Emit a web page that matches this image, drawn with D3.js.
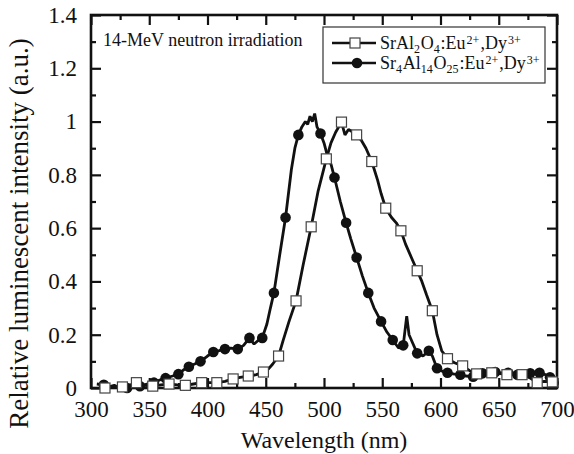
<!DOCTYPE html>
<html>
<head>
<meta charset="utf-8">
<script src="https://cdn.jsdelivr.net/npm/d3@7"></script>
<style>
  body { margin: 0; background: #fff; }
</style>
</head>
<body>
<div class="graph"></div>
<script>
// SrAl2O4:Eu,Dy  (open squares)
var sqWl  = [310, 312, 320, 327, 333, 339, 346, 353, 360, 367, 374, 381, 388, 395, 401, 408, 415, 422, 428, 435, 442, 448, 452, 456, 461, 465, 470, 476, 482, 489, 495, 502, 506, 510, 515, 518, 521, 525, 528, 532, 536, 541, 546, 549, 553, 558, 562, 566, 570, 575, 580, 584, 588, 593, 597, 601, 606, 612, 619, 625, 631, 638, 644, 650, 657, 663, 670, 676, 683, 689, 696, 700];
var sqVal = [0.0, 0.0, 0.005, 0.004, 0.01, 0.02, 0.01, 0.007, 0.012, 0.015, 0.012, 0.01, 0.015, 0.02, 0.02, 0.02, 0.025, 0.034, 0.04, 0.045, 0.05, 0.06, 0.07, 0.09, 0.12, 0.18, 0.25, 0.327, 0.46, 0.605, 0.74, 0.86, 0.92, 0.96, 0.998, 0.95, 0.97, 0.96, 0.95, 0.93, 0.9, 0.85, 0.78, 0.73, 0.675, 0.64, 0.62, 0.59, 0.54, 0.49, 0.44, 0.4, 0.35, 0.29, 0.2, 0.14, 0.11, 0.095, 0.083, 0.065, 0.053, 0.055, 0.057, 0.055, 0.05, 0.052, 0.05, 0.04, 0.02, 0.025, 0.023, 0.03];
var sqMarks = [312, 327, 339, 353, 367, 381, 395, 408, 422, 435, 448, 461, 476, 489, 502, 515, 528, 541, 553, 566, 580, 593, 606, 619, 631, 644, 657, 670, 683, 696];

// Sr4Al14O25:Eu,Dy  (filled circles)
var ciWl  = [305, 311, 316, 320, 325, 331, 336, 342, 348, 354, 359, 364, 370, 375, 380, 384, 389, 394, 400, 405, 410, 415, 420, 426, 431, 436, 440, 444, 447, 451, 454, 457, 462, 467, 472, 475, 478, 481, 484, 486, 488, 490, 492, 494, 497, 500, 503, 506, 509, 514, 519, 523, 528, 533, 538, 543, 549, 554, 559, 564, 568, 571, 573, 576, 580, 585, 590, 593, 597, 602, 606, 612, 617, 622, 628, 632, 636, 642, 647, 652, 658, 662, 666, 672, 677, 681, 685, 690, 694, 697, 700];
var ciVal = [0.015, 0.012, 0.005, 0.01, 0.0, 0.0, 0.005, 0.007, 0.015, 0.02, 0.03, 0.037, 0.045, 0.052, 0.07, 0.08, 0.09, 0.10, 0.12, 0.135, 0.14, 0.146, 0.15, 0.146, 0.16, 0.188, 0.165, 0.18, 0.188, 0.24, 0.3, 0.357, 0.5, 0.64, 0.82, 0.9, 0.95, 0.98, 1.0, 0.99, 1.02, 1.0, 1.03, 0.98, 0.955, 0.92, 0.87, 0.84, 0.79, 0.7, 0.62, 0.56, 0.49, 0.42, 0.357, 0.3, 0.25, 0.21, 0.18, 0.15, 0.16, 0.27, 0.2, 0.17, 0.13, 0.12, 0.14, 0.12, 0.074, 0.062, 0.057, 0.052, 0.05, 0.045, 0.042, 0.05, 0.055, 0.06, 0.06, 0.057, 0.057, 0.052, 0.05, 0.055, 0.055, 0.06, 0.057, 0.05, 0.04, 0.02, 0.03];
var ciMarks = [311, 331, 342, 354, 364, 375, 384, 394, 405, 415, 426, 436, 447, 457, 467, 478, 497, 509, 519, 528, 538, 549, 559, 568, 580, 590, 597, 606, 617, 628, 636, 647, 658, 666, 677, 685, 694, 697];

var xTicks = [300, 350, 400, 450, 500, 550, 600, 650, 700];
var yTicks = [0, 0.2, 0.4, 0.6, 0.8, 1, 1.2, 1.4];
var yTickLabels = ["0", "0.2", "0.4", "0.6", "0.8", "1", "1.2", "1.4"];

var FONT = "'Liberation Serif', 'Times New Roman', serif";
var W = 574, H = 454;
var margin = { top: 15, right: 17, bottom: 66, left: 91 },
  width = W - margin.left - margin.right,
  height = H - margin.top - margin.bottom;

var x = d3.scaleLinear().domain([300, 700]).range([0, width]);
var y = d3.scaleLinear().domain([0, 1.4]).range([height, 0]);

var root = d3.select(".graph")
  .append("svg")
  .attr("width", W)
  .attr("height", H)
  .style("font-family", FONT);

var svg = root.append("g")
  .attr("transform", "translate(" + margin.left + "," + margin.top + ")");

var xMinor = d3.range(325, 700, 50);
var yMinor = d3.range(0.1, 1.4, 0.2);

// ticks inward on all four sides
function styleAxis(g) {
  g.attr("font-family", null);
  g.select(".domain").remove();
  g.selectAll(".tick line").attr("stroke", "#111").attr("stroke-width", 2.2);
  g.selectAll(".tick text")
    .style("font-family", FONT)
    .style("font-size", "23px")
    .attr("fill", "#111");
}

svg.append("g").attr("transform", "translate(0," + height + ")")
  .call(d3.axisBottom(x).tickValues(xTicks).tickSize(-10).tickPadding(13).tickFormat(d3.format("d")))
  .call(styleAxis);
svg.append("g").attr("transform", "translate(0," + height + ")")
  .call(d3.axisBottom(x).tickValues(xMinor).tickSize(-5).tickFormat(""))
  .call(styleAxis);
svg.append("g")
  .call(d3.axisTop(x).tickValues(xTicks).tickSize(-10).tickFormat(""))
  .call(styleAxis);
svg.append("g")
  .call(d3.axisTop(x).tickValues(xMinor).tickSize(-5).tickFormat(""))
  .call(styleAxis);

svg.append("g")
  .call(d3.axisLeft(y).tickValues(yTicks).tickSize(-10).tickPadding(14).tickFormat(function(d, i) { return yTickLabels[i]; }))
  .call(styleAxis);
svg.append("g")
  .call(d3.axisLeft(y).tickValues(yMinor).tickSize(-5).tickFormat(""))
  .call(styleAxis);
svg.append("g").attr("transform", "translate(" + width + ",0)")
  .call(d3.axisRight(y).tickValues(yTicks).tickSize(-10).tickFormat(""))
  .call(styleAxis);
svg.append("g").attr("transform", "translate(" + width + ",0)")
  .call(d3.axisRight(y).tickValues(yMinor).tickSize(-5).tickFormat(""))
  .call(styleAxis);

svg.append("rect")
  .attr("width", width).attr("height", height)
  .attr("fill", "none").attr("stroke", "#111").attr("stroke-width", 2.6);

var line = d3.line()
  .x(function(d) { return x(d[0]); })
  .y(function(d) { return y(d[1]); });

var sqData = d3.zip(sqWl, sqVal);
var ciData = d3.zip(ciWl, ciVal);

svg.append("path").datum(ciData).attr("d", line)
  .attr("fill", "none").attr("stroke", "#111").attr("stroke-width", 2.8).attr("stroke-linejoin", "bevel");
svg.append("path").datum(sqData).attr("d", line)
  .attr("fill", "none").attr("stroke", "#111").attr("stroke-width", 2.8).attr("stroke-linejoin", "bevel");

svg.selectAll(".ci").data(ciMarks).enter().append("circle")
  .attr("cx", function(d) { return x(d); })
  .attr("cy", function(d) { return y(ciVal[ciWl.indexOf(d)]); })
  .attr("r", 5.3)
  .attr("fill", "#111");

svg.selectAll(".sq").data(sqMarks).enter().append("rect")
  .attr("x", function(d) { return x(d) - 5; })
  .attr("y", function(d) { return y(sqVal[sqWl.indexOf(d)]) - 5; })
  .attr("width", 10).attr("height", 10)
  .attr("fill", "#fff").attr("stroke", "#444").attr("stroke-width", 1.2);

// annotation
svg.append("text").attr("x", 12).attr("y", 31)
  .style("font-size", "18px").attr("fill", "#111").text("14-MeV neutron irradiation");

// legend
var lg = svg.append("g").attr("transform", "translate(232,12)");
lg.append("rect").attr("width", 222).attr("height", 56)
  .attr("fill", "#fff").attr("stroke", "#333").attr("stroke-width", 1.2);

function chem(t, parts) {
  parts.forEach(function(p) {
    var ts = t.append("tspan").text(p[0]);
    if (p[1] === "sub") ts.style("font-size", "12px").attr("dy", 4);
    if (p[1] === "sup") ts.style("font-size", "12px").attr("dy", -5).attr("dx", 1);
    if (p[1] === "back") ts.attr("dy", p[2]).attr("dx", p[3] || 0.8);
  });
}

lg.append("line").attr("x1", 9).attr("x2", 53).attr("y1", 16).attr("y2", 16)
  .attr("stroke", "#111").attr("stroke-width", 2.6);
lg.append("rect").attr("x", 27).attr("y", 11).attr("width", 10).attr("height", 10)
  .attr("fill", "#fff").attr("stroke", "#444").attr("stroke-width", 1.2);
var t1 = lg.append("text").attr("x", 57).attr("y", 22).style("font-size", "18px").attr("fill", "#111");
chem(t1, [["SrAl"], ["2", "sub"], ["O", "back", -4], ["4", "sub"], [":Eu", "back", -4], ["2+", "sup"], [",Dy", "back", 5, 1], ["3+", "sup"]]);

lg.append("line").attr("x1", 9).attr("x2", 53).attr("y1", 36).attr("y2", 36)
  .attr("stroke", "#111").attr("stroke-width", 2.6);
lg.append("circle").attr("cx", 34).attr("cy", 36).attr("r", 5.3).attr("fill", "#111");
var t2 = lg.append("text").attr("x", 57).attr("y", 42).style("font-size", "18px").attr("fill", "#111");
chem(t2, [["Sr"], ["4", "sub"], ["Al", "back", -4], ["14", "sub"], ["O", "back", -4], ["25", "sub"], [":Eu", "back", -4], ["2+", "sup"], [",Dy", "back", 5, 1], ["3+", "sup"]]);

// axis titles
svg.append("text")
  .attr("x", width / 2).attr("y", height + 60)
  .attr("text-anchor", "middle").style("font-size", "24px").attr("fill", "#111")
  .text("Wavelength (nm)");
svg.append("text")
  .attr("transform", "translate(" + (-63) + "," + (height / 2 + 32) + ") rotate(-90)")
  .attr("text-anchor", "middle").style("font-size", "27px").attr("fill", "#111")
  .text("Relative luminescent intensity (a.u.)");
</script>
</body>
</html>
